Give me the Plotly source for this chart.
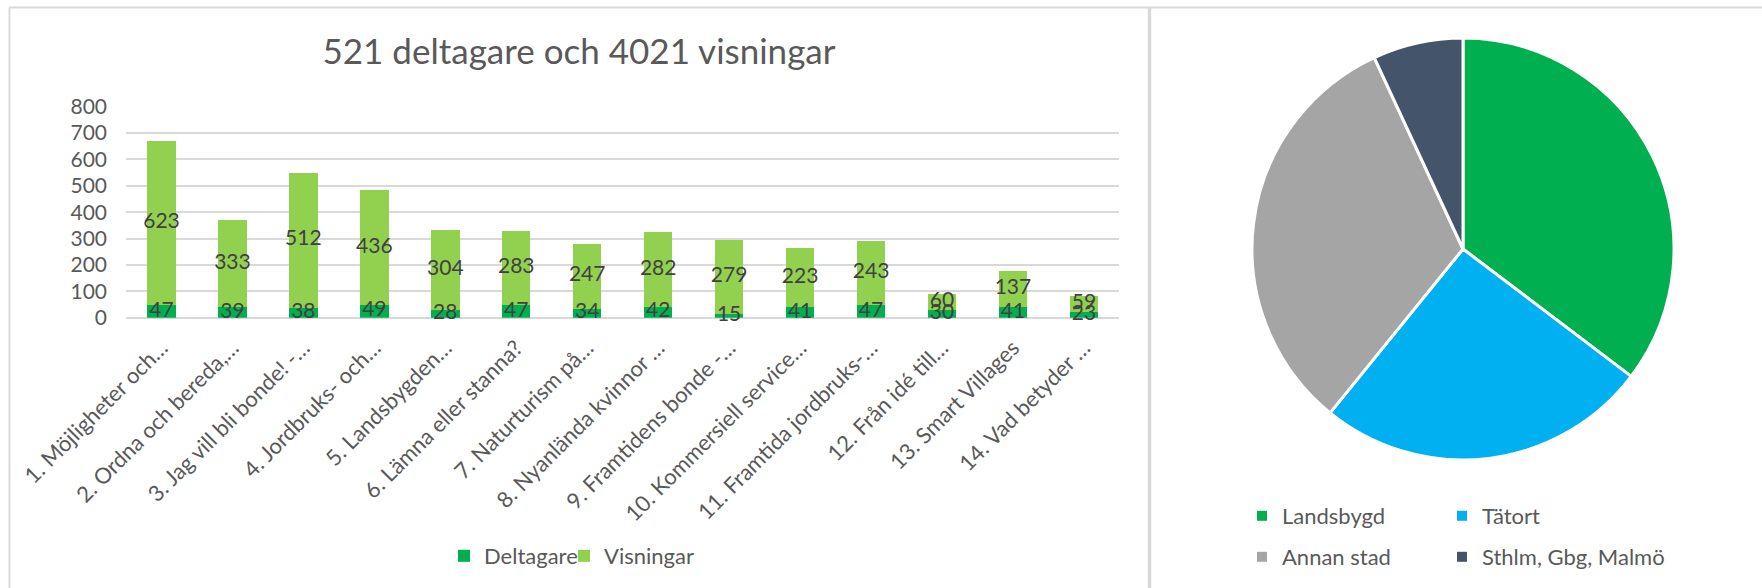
import plotly.graph_objects as go

# ---------------- data ----------------
categories = [
    "1. Möjligheter och…",
    "2. Ordna och bereda,…",
    "3. Jag vill bli bonde! -…",
    "4. Jordbruks- och…",
    "5. Landsbygden…",
    "6. Lämna eller stanna?",
    "7. Naturturism på…",
    "8. Nyanlända kvinnor …",
    "9. Framtidens bonde -…",
    "10. Kommersiell service…",
    "11. Framtida jordbruks-…",
    "12. Från idé till…",
    "13. Smart Villages",
    "14. Vad betyder …",
]
deltagare = [47, 39, 38, 49, 28, 47, 34, 42, 15, 41, 47, 30, 41, 23]
visningar = [623, 333, 512, 436, 304, 283, 247, 282, 279, 223, 243, 60, 137, 59]
y_ticks = [0, 100, 200, 300, 400, 500, 600, 700, 800]
series_names = ["Deltagare", "Visningar"]
title_text = "521 deltagare och 4021 visningar"

pie_labels = ["Landsbygd", "Tätort", "Annan stad", "Sthlm, Gbg, Malmö"]
pie_values = [184, 133, 168, 36]

# ---------------- styles ----------------
W, H = 1762, 588
FONT = "Lato"
TXT = "#595959"
LBL = "#404040"
GRID = "#D9D9D9"
bar_colors = ["#00B050", "#92D050"]
pie_colors = ["#00B050", "#00B0F0", "#A5A5A5", "#44546A"]


def px(x):
    return x / W


def py(y):
    return 1 - y / H


def legend_box(x, y):
    return dict(orientation="h", x=px(x), xanchor="left", y=py(y), yanchor="middle",
                font=dict(size=22, color=TXT), bgcolor="rgba(0,0,0,0)")


fig = go.Figure()

legends = {}
bar_leg_pos = [(444, 556), (564, 556)]
for i, (name, vals, col) in enumerate(zip(series_names, [deltagare, visningar], bar_colors)):
    lid = "legend" if i == 0 else "legend6"
    fig.add_trace(go.Bar(
        name=name, x=categories, y=vals,
        marker=dict(color=col, line=dict(width=0)),
        legend=lid, hoverinfo="x+y+name",
    ))
    legends[lid] = legend_box(*bar_leg_pos[i])

# data labels, centred in each stacked segment, drawn on top of all bars
seg_mid_d = [d / 2 for d in deltagare]
seg_mid_v = [d + v / 2 for d, v in zip(deltagare, visningar)]
for mids, vals in [(seg_mid_v, visningar), (seg_mid_d, deltagare)]:
    fig.add_trace(go.Scatter(
        x=categories, y=mids, mode="text", text=[str(v) for v in vals],
        textposition="middle center", cliponaxis=False,
        textfont=dict(family=FONT, size=21, color=LBL),
        showlegend=False, hoverinfo="skip",
    ))

fig.add_trace(go.Pie(
    labels=pie_labels, values=pie_values,
    marker=dict(colors=pie_colors, line=dict(color="white", width=3)),
    sort=False, direction="clockwise", rotation=0,
    textinfo="none", showlegend=False,
    domain=dict(x=[px(1252), px(1674)], y=[py(460), py(38)]),
))

# legend entries for the pie, laid out 2 x 2 as in the reference
pie_leg_pos = [(1242, 516), (1442, 516), (1242, 557), (1442, 557)]
for i, (lab, col) in enumerate(zip(pie_labels, pie_colors)):
    lid = "legend%d" % (i + 2)
    fig.add_trace(go.Scatter(
        x=[None], y=[None], mode="markers", name=lab,
        marker=dict(symbol="square", size=10, color=col),
        legend=lid, hoverinfo="skip",
    ))
    legends[lid] = legend_box(*pie_leg_pos[i])

border = dict(color=GRID, width=2)
shapes = [
    dict(type="line", xref="paper", yref="paper", x0=px(9), x1=1, y0=py(7.5), y1=py(7.5), line=border),
    dict(type="line", xref="paper", yref="paper", x0=px(9.5), x1=px(9.5), y0=0, y1=py(7.5), line=border),
    dict(type="line", xref="paper", yref="paper", x0=px(1149.5), x1=px(1149.5), y0=0, y1=py(7.5),
         line=dict(color=GRID, width=3.5)),
]

fig.update_layout(
    width=W, height=H,
    margin=dict(l=0, r=0, t=0, b=0, autoexpand=False),
    paper_bgcolor="white", plot_bgcolor="white",
    barmode="stack", bargap=0.6,
    font=dict(family=FONT, color=TXT),
    title=dict(text=title_text, x=px(579), xanchor="center", y=py(52), yanchor="middle",
               font=dict(family=FONT, size=35, color=TXT)),
    xaxis=dict(domain=[px(126), px(1119.4)], range=[-0.5, len(categories) - 0.5],
               tickangle=-45, tickfont=dict(size=22, color=TXT),
               showgrid=False, showline=False, ticks="", categoryorder="array",
               categoryarray=categories, ticklabelstandoff=12, automargin=False),
    yaxis=dict(domain=[py(317.7), py(106.7)], range=[0, 800], tickvals=y_ticks,
               showgrid=True, gridcolor=GRID, gridwidth=1.5,
               zeroline=True, zerolinecolor=GRID, zerolinewidth=1.5,
               tickfont=dict(size=21, color=TXT), ticklabelstandoff=18, automargin=False),
    shapes=shapes,
    **legends,
)

fig.write_html(
    "out.html",
    config={"displayModeBar": False},
    post_script="document.body.style.margin='0';document.body.style.overflow='hidden';",
)
